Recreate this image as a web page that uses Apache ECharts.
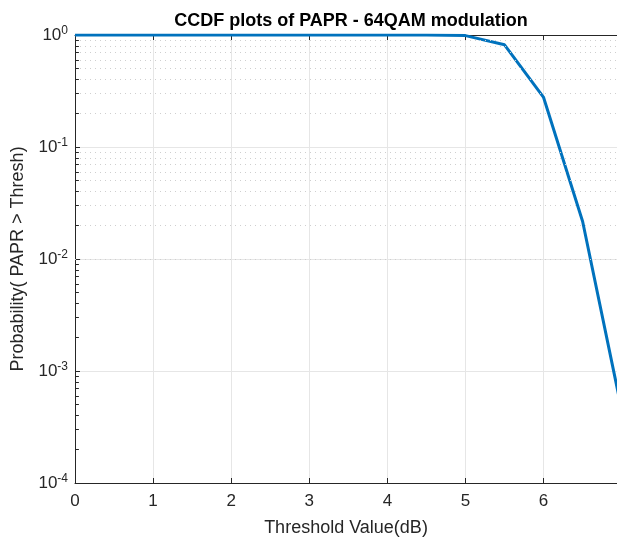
<!DOCTYPE html>
<html>
<head>
<meta charset="utf-8">
<script src="https://cdn.jsdelivr.net/npm/echarts@6/dist/echarts.min.js"></script>
<style>
  html, body { margin: 0; padding: 0; background: #fff; }
  #main { width: 617px; height: 537px; }
</style>
</head>
<body>
<div id="main"></div>
<script>
var threshold = [0, 0.5, 1, 1.5, 2, 2.5, 3, 3.5, 4, 4.5, 5, 5.5, 6, 6.5, 7];
var ccdf = [1, 1, 1, 1, 1, 1, 1, 1, 1, 1, 0.988, 0.818, 0.277, 0.0216, 0.00045];
var decades = [-4, -3, -2, -1, 0];
var xMax = 6.94; // picture is cropped just before 7

var txt = '#262626';
var fontName = 'Liberation Sans, Arial, sans-serif';

// minor log positions 2..9 x 10^n
var minorVals = [];
for (var i = 0; i < decades.length - 1; i++) {
  for (var k = 2; k <= 9; k++) {
    minorVals.push(k * Math.pow(10, decades[i]));
  }
}

var minorGrid = minorVals.map(function (v) {
  return { yAxis: v };
});
var minorTicks = minorVals.map(function (v) {
  return [{ coord: [0, v] }, { coord: [0.05, v] }];
});

var myChart = echarts.init(document.getElementById('main'));

option = {
  backgroundColor: '#fff',
  animation: false,
  title: {
    text: 'CCDF plots of PAPR - 64QAM modulation',
    left: 346,
    textAlign: 'center',
    top: 7,
    textStyle: {
      fontFamily: fontName,
      fontSize: 18,
      fontWeight: 'bold',
      color: '#000'
    }
  },
  grid: { left: 75, top: 35, right: 0, bottom: 54, outerBoundsMode: 'none', containLabel: false },
  xAxis: [{
    type: 'value',
    min: 0,
    max: xMax,
    interval: 1,
    name: 'Threshold Value(dB)',
    nameLocation: 'middle',
    nameGap: 36,
    nameTextStyle: { fontFamily: fontName, fontSize: 18, color: txt },
    axisLine: { onZero: false, lineStyle: { color: txt, width: 1 } },
    axisTick: { inside: true, length: 5, lineStyle: { color: txt } },
    axisLabel: { fontFamily: fontName, fontSize: 17, color: txt, margin: 10, showMaxLabel: false },
    splitLine: { show: true, lineStyle: { color: '#e6e6e6', width: 1 } }
  }, {
    type: 'value',
    position: 'top',
    min: 0,
    max: xMax,
    interval: 1,
    axisLine: { onZero: false, lineStyle: { color: txt, width: 1 } },
    axisTick: { inside: true, length: 5, lineStyle: { color: txt } },
    axisLabel: { show: false },
    splitLine: { show: false }
  }],
  yAxis: {
    type: 'log',
    logBase: 10,
    min: 1e-4,
    max: 1,
    name: 'Probability( PAPR > Thresh)',
    nameLocation: 'middle',
    nameGap: 45,
    nameTextStyle: { fontFamily: fontName, fontSize: 18, color: txt },
    axisLine: { show: true, lineStyle: { color: txt, width: 1 } },
    axisTick: { inside: true, length: 5, lineStyle: { color: txt } },
    axisLabel: {
      margin: 7,
      formatter: function (v) {
        return '{b|10}{s|' + Math.round(Math.log10(v)) + '}';
      },
      rich: {
        b: { fontFamily: fontName, fontSize: 17, color: txt },
        s: { fontFamily: fontName, fontSize: 12, color: txt, verticalAlign: 'bottom', padding: [0, 0, 9, 0] }
      }
    },
    splitLine: { show: true, lineStyle: { color: '#e6e6e6', width: 1 } }
  },
  series: [{
    type: 'line',
    silent: true,
    data: [],
    markLine: {
      silent: true,
      symbol: 'none',
      label: { show: false },
      animation: false,
      lineStyle: { color: '#cfcfcf', type: [1, 4], width: 1 },
      data: minorGrid
    }
  }, {
    type: 'line',
    silent: true,
    data: [],
    markLine: {
      silent: true,
      symbol: 'none',
      label: { show: false },
      animation: false,
      lineStyle: { color: txt, type: 'solid', width: 1 },
      data: minorTicks
    }
  }, {
    name: 'CCDF',
    type: 'line',
    data: threshold.map(function (x, i) { return [x, ccdf[i]]; }),
    showSymbol: false,
    lineStyle: { color: '#0072BD', width: 3 },
    itemStyle: { color: '#0072BD' }
  }]
};

myChart.setOption(option);
window.onresize = myChart.resize;
</script>
</body>
</html>
